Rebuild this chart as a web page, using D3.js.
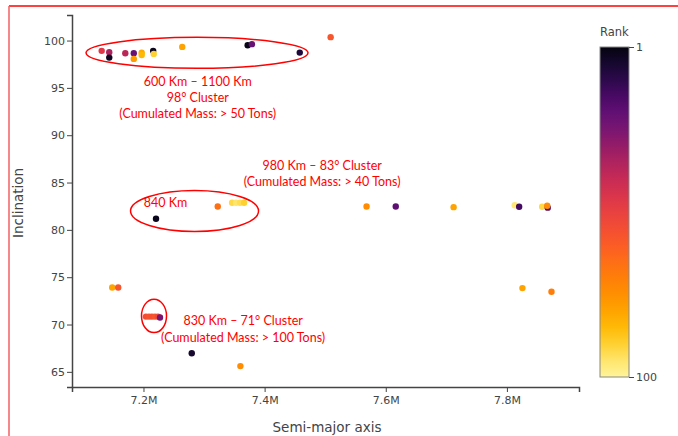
<!DOCTYPE html>
<html>
<head>
<meta charset="utf-8">
<script src="https://cdn.jsdelivr.net/npm/d3@7"></script>
<style>
  body { margin: 0; background: #fff; }
  svg { display: block; }
  .axis text { font-family: "DejaVu Sans", Verdana, sans-serif; font-size: 11px; fill: #444; }
  .axis path, .axis line { stroke: #444; }
  .axis-title { font-family: "DejaVu Sans", Verdana, sans-serif; font-size: 13.5px; fill: #444; }
  .note { font-family: Lato, "Liberation Sans", sans-serif; font-size: 12.5px; fill: #ff0000; }
</style>
</head>
<body>
<div id="chart"></div>
<script>
// Semi-major axis (m), inclination (deg) and rank of each object
const semiMajor = [
    7.131e6, 7.1435e6, 7.1435e6, 7.170e6, 7.184e6, 7.184e6, 7.197e6, 7.197e6,
    7.216e6, 7.217e6, 7.264e6, 7.372e6, 7.379e6, 7.458e6, 7.509e6,
    7.2207e6, 7.3226e6, 7.3463e6, 7.3529e6, 7.3595e6, 7.3661e6, 7.5683e6, 7.6165e6,
    7.712e6, 7.8129e6, 7.8202e6, 7.8582e6, 7.8674e6, 7.8665e6,
    7.1484e6, 7.1583e6, 7.2041e6, 7.2091e6, 7.2140e6, 7.2190e6, 7.2240e6, 7.2273e6,
    7.2797e6, 7.360e6, 7.8256e6, 7.8736e6
];
const inclination = [
    98.91, 98.77, 98.20, 98.66, 98.66, 98.06, 98.73, 98.48,
    98.91, 98.59, 99.33, 99.51, 99.62, 98.73, 100.36,
    81.17, 82.47, 82.86, 82.86, 82.86, 82.86, 82.47, 82.47,
    82.40, 82.60, 82.45, 82.45, 82.35, 82.55,
    73.91, 73.91, 70.84, 70.84, 70.84, 70.84, 70.84, 70.75,
    66.96, 65.61, 73.85, 73.46
];
const rank = [
    47, 35, 4, 38, 22, 78, 82, 85,
    3, 90, 80, 2, 22, 8, 58,
    3, 66, 92, 95, 93, 90, 74, 20,
    80, 96, 15, 92, 18, 74,
    80, 58, 55, 57, 56, 58, 54, 25,
    6, 74, 80, 70
];

const xTicks = [7.2e6, 7.4e6, 7.6e6, 7.8e6];
const yTicks = [65, 70, 75, 80, 85, 90, 95, 100];
const rankTicks = [1, 100];

// Red annotations, anchored in data units
const noteLines = [
    { x: 7.2896e6, y: 95.62, text: '600 Km \u2013 1100 Km' },
    { x: 7.2896e6, y: 93.92, text: '98\u00b0 Cluster' },
    { x: 7.2896e6, y: 92.23, text: '(Cumulated Mass: > 50 Tons)' },
    { x: 7.495e6, y: 86.82, text: '980 Km \u2013 83\u00b0 Cluster' },
    { x: 7.495e6, y: 85.12, text: '(Cumulated Mass: > 40 Tons)' },
    { x: 7.2364e6, y: 82.86, text: '840 Km' },
    { x: 7.3645e6, y: 70.38, text: '830 Km \u2013 71\u00b0 Cluster' },
    { x: 7.3645e6, y: 68.61, text: '(Cumulated Mass: > 100 Tons)' }
];
const noteRings = [
    { x: 7.2884e6, y: 98.70, rx: 111, ry: 15.5 },
    { x: 7.2843e6, y: 82.0, rx: 64, ry: 20.5 },
    { x: 7.2174e6, y: 70.91, rx: 12.5, ry: 16.7 }
];

const W = 678, H = 436;
const plot = { left: 72, right: 579, top: 15, bottom: 387 };

const svg = d3.select('#chart').append('svg')
    .attr('width', W)
    .attr('height', H);

// inferno-like ramp, rank 1 = black, rank 100 = pale yellow
const stops = ['#05040f', '#1a0b3a', '#40065f', '#63107a', '#80186f', '#a82060', '#c82a55',
    '#e03848', '#f04a38', '#fc5a25', '#ff7510', '#ff8a00', '#ffa200', '#ffc300', '#ffe060', '#fff59a'];
const color = d3.scaleSequential(d3.interpolateRgbBasis(stops)).domain([1, 100]);

const x = d3.scaleLinear().domain([7.082e6, 7.919e6]).range([plot.left, plot.right]);
const y = d3.scaleLinear().domain([63.4, 102.7]).range([plot.bottom, plot.top]);

// slide frame
svg.append('line')
    .attr('x1', 9).attr('x2', W).attr('y1', 6).attr('y2', 6)
    .attr('stroke', '#ff0000').attr('stroke-width', 1.5);
svg.append('line')
    .attr('x1', 9).attr('x2', 9).attr('y1', 6).attr('y2', H)
    .attr('stroke', '#f26262').attr('stroke-width', 1.5);

// Axes
const xAxis = svg.append('g')
    .attr('class', 'axis')
    .attr('transform', `translate(0,${plot.bottom})`)
    .call(d3.axisBottom(x).tickValues(xTicks).tickSizeOuter(0).tickSize(5).tickPadding(4)
        .tickFormat(d => `${d / 1e6}M`));
xAxis.select('.domain').attr('stroke-width', 1.5);

const yAxis = svg.append('g')
    .attr('class', 'axis')
    .attr('transform', `translate(${plot.left},0)`)
    .call(d3.axisLeft(y).tickValues(yTicks).tickSizeOuter(0).tickSize(5).tickPadding(2));
yAxis.select('.domain').attr('stroke-width', 1.5);

svg.append('text')
    .attr('class', 'axis-title')
    .attr('x', 327)
    .attr('y', 432)
    .attr('text-anchor', 'middle')
    .text('Semi-major axis');

svg.append('text')
    .attr('class', 'axis-title')
    .attr('transform', 'translate(23,203) rotate(-90)')
    .attr('text-anchor', 'middle')
    .text('Inclination');

// Points
const points = semiMajor.map((a, i) => ({ a, inc: inclination[i], rank: rank[i] }));
svg.append('g')
    .selectAll('circle')
    .data(points)
    .join('circle')
    .attr('cx', d => x(d.a))
    .attr('cy', d => y(d.inc))
    .attr('r', 3.2)
    .attr('fill', d => color(d.rank));

// Annotations
svg.append('g')
    .selectAll('ellipse')
    .data(noteRings)
    .join('ellipse')
    .attr('cx', d => x(d.x))
    .attr('cy', d => y(d.y))
    .attr('rx', d => d.rx)
    .attr('ry', d => d.ry)
    .attr('fill', 'none')
    .attr('stroke', '#ff0000')
    .attr('stroke-width', 1.5);

svg.append('g')
    .selectAll('text')
    .data(noteLines)
    .join('text')
    .attr('class', 'note')
    .attr('x', d => x(d.x))
    .attr('y', d => y(d.y))
    .attr('dy', '0.35em')
    .attr('text-anchor', 'middle')
    .text(d => d.text);

// Colour bar
const bar = { x: 600, w: 29, top: 47, bottom: 377 };
const defs = svg.append('defs');
const grad = defs.append('linearGradient')
    .attr('id', 'rank-grad')
    .attr('x1', 0).attr('x2', 0).attr('y1', 0).attr('y2', 1);
grad.selectAll('stop')
    .data(d3.range(0, 1.0001, 0.05))
    .join('stop')
    .attr('offset', d => d)
    .attr('stop-color', d => color(1 + d * 99));

svg.append('rect')
    .attr('x', bar.x).attr('y', bar.top)
    .attr('width', bar.w).attr('height', bar.bottom - bar.top)
    .attr('fill', 'url(#rank-grad)')
    .attr('stroke', '#888')
    .attr('stroke-width', 1);

const rankY = d3.scaleLinear().domain([1, 100]).range([bar.top, bar.bottom]);
const cbAxis = svg.append('g')
    .attr('class', 'axis')
    .attr('transform', `translate(${bar.x + bar.w},0)`)
    .call(d3.axisRight(rankY).tickValues(rankTicks).tickSize(5).tickPadding(2));
cbAxis.select('.domain').remove();
cbAxis.selectAll('line').attr('stroke', '#888');

svg.append('text')
    .attr('x', bar.x)
    .attr('y', 36)
    .style('font-family', '"DejaVu Sans", Verdana, sans-serif')
    .style('font-size', '11.5px')
    .style('fill', '#444')
    .text('Rank');
</script>
</body>
</html>
